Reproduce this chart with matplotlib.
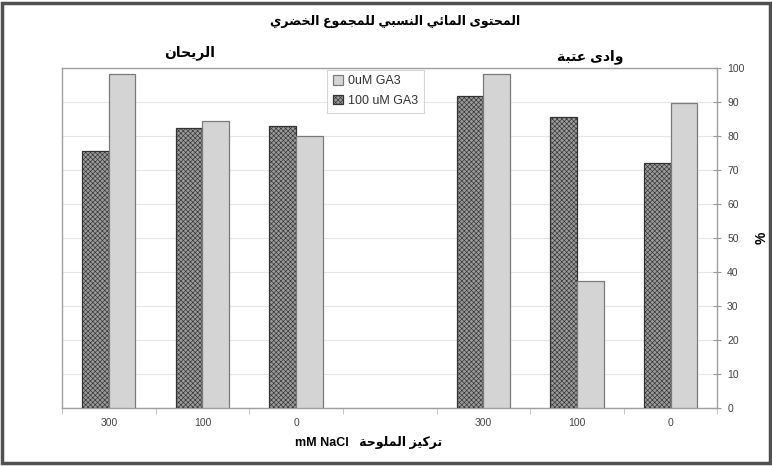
import matplotlib
matplotlib.use('Agg')
import matplotlib.pyplot as plt
import numpy as np
from matplotlib.patches import Rectangle

# data
salt_levels = ['300', '100', '0', '', '300', '100', '0']
ga3_100 = [75.5, 82.3, 83.0, np.nan, 91.6, 85.6, 72.0]
ga3_0 = [98.3, 84.3, 80.0, np.nan, 98.1, 37.3, 89.6]
y_ticks = list(range(0, 101, 10))

title_txt = 'المحتوى المائي النسبي للمجموع الخضري'
group_left = 'الريحان'
group_right = 'وادى عتبة'
xlabel_ar = 'تركيز الملوحة'
xlabel_en = 'mM NaCl'
legend_labels = ['0uM GA3', '100 uM GA3']

# simple arabic shaping: presentation forms + visual order
FORMS = {
    'ا': ('\uFE8D', '\uFE8E', None, None),
    'ب': ('\uFE8F', '\uFE90', '\uFE91', '\uFE92'),
    'ة': ('\uFE93', '\uFE94', None, None),
    'ت': ('\uFE95', '\uFE96', '\uFE97', '\uFE98'),
    'ج': ('\uFE9D', '\uFE9E', '\uFE9F', '\uFEA0'),
    'ح': ('\uFEA1', '\uFEA2', '\uFEA3', '\uFEA4'),
    'خ': ('\uFEA5', '\uFEA6', '\uFEA7', '\uFEA8'),
    'د': ('\uFEA9', '\uFEAA', None, None),
    'ر': ('\uFEAD', '\uFEAE', None, None),
    'ز': ('\uFEAF', '\uFEB0', None, None),
    'س': ('\uFEB1', '\uFEB2', '\uFEB3', '\uFEB4'),
    'ض': ('\uFEBD', '\uFEBE', '\uFEBF', '\uFEC0'),
    'ع': ('\uFEC9', '\uFECA', '\uFECB', '\uFECC'),
    'ك': ('\uFED9', '\uFEDA', '\uFEDB', '\uFEDC'),
    'ل': ('\uFEDD', '\uFEDE', '\uFEDF', '\uFEE0'),
    'م': ('\uFEE1', '\uFEE2', '\uFEE3', '\uFEE4'),
    'ن': ('\uFEE5', '\uFEE6', '\uFEE7', '\uFEE8'),
    'و': ('\uFEED', '\uFEEE', None, None),
    'ى': ('\uFEEF', '\uFEF0', None, None),
    'ي': ('\uFEF1', '\uFEF2', '\uFEF3', '\uFEF4'),
    'ئ': ('\uFE89', '\uFE8A', '\uFE8B', '\uFE8C'),
}


def shape(s):
    out = []
    for i, c in enumerate(s):
        if c not in FORMS:
            out.append(c)
            continue
        prev = s[i - 1] if i > 0 else ''
        nxt = s[i + 1] if i + 1 < len(s) else ''
        jp = prev in FORMS and FORMS[prev][2] is not None
        jn = nxt in FORMS and FORMS[c][2] is not None
        iso, fin, ini, med = FORMS[c]
        if jp and jn:
            out.append(med)
        elif jp:
            out.append(fin)
        elif jn:
            out.append(ini)
        else:
            out.append(iso)
    return ''.join(out)[::-1]


fam = ['Liberation Sans', 'DejaVu Sans']
plt.rcParams['font.family'] = fam
plt.rcParams['hatch.linewidth'] = 0.45

fig = plt.figure(figsize=(7.72, 4.66), dpi=100)
ax = fig.add_axes([0.0803, 0.1245, 0.849, 0.730])

x = np.arange(len(salt_levels))
w = 0.285
ax.bar(x - w / 2, ga3_100, w, color='#9a9a9a', edgecolor='#333333', hatch='xxxxxxx',
       linewidth=0.9, label=legend_labels[1], zorder=3)
ax.bar(x + w / 2, ga3_0, w, color='#d4d4d4', edgecolor='#7a7a7a',
       linewidth=0.9, label=legend_labels[0], zorder=3)

ax.set_xlim(-0.5, len(salt_levels) - 0.5)
ax.set_ylim(0, 100)
ax.yaxis.tick_right()
ax.set_yticks(y_ticks)
ax.tick_params(axis='y', direction='inout', length=6, color='#999999',
               labelsize=7.5, labelcolor='#444444', pad=4)
ax.set_xticks(x)
ax.set_xticklabels(salt_levels)
ax.set_xticks(np.arange(-0.5, len(salt_levels), 1), minor=True)
ax.tick_params(axis='x', which='major', length=0, labelsize=7.5,
               labelcolor='#444444', pad=7)
ax.tick_params(axis='x', which='minor', direction='out', length=4, color='#bbbbbb')
ax.grid(axis='y', color='#e6e6e6', linewidth=0.8, zorder=0)
for s in ax.spines.values():
    s.set_color('#a0a0a0')
    s.set_linewidth(1.0)

h, l = ax.get_legend_handles_labels()
leg = fig.legend(h[::-1], l[::-1], loc='upper left', bbox_to_anchor=(0.416, 0.864),
                 fontsize=9, frameon=True, fancybox=False, handlelength=0.8,
                 handleheight=0.8, handletextpad=0.4, labelspacing=0.6,
                 borderpad=0.45, labelcolor='#333333')
leg.get_frame().set_edgecolor('#cccccc')
leg.get_frame().set_linewidth(0.8)

fig.text(0.512, 0.953, shape(title_txt), ha='center', va='center',
         fontsize=9, fontweight='bold', family=fam)
fig.text(0.246, 0.888, shape(group_left), ha='center', va='center',
         fontsize=10, fontweight='bold', family=fam)
fig.text(0.764, 0.878, shape(group_right), ha='center', va='center',
         fontsize=10, fontweight='bold', family=fam)
fig.text(0.478, 0.051, xlabel_en + '   ' + shape(xlabel_ar), ha='center',
         va='center', fontsize=9, fontweight='bold', family=fam)
fig.text(0.987, 0.489, '%', ha='center', va='center', rotation=90,
         fontsize=10, fontweight='bold')

# outer frame of the chart
fig.patches.append(Rectangle((0.003, 0.006), 0.994, 0.988, transform=fig.transFigure,
                             fill=False, edgecolor='#505050', linewidth=2.5))

fig.savefig('out.png', dpi=100)
